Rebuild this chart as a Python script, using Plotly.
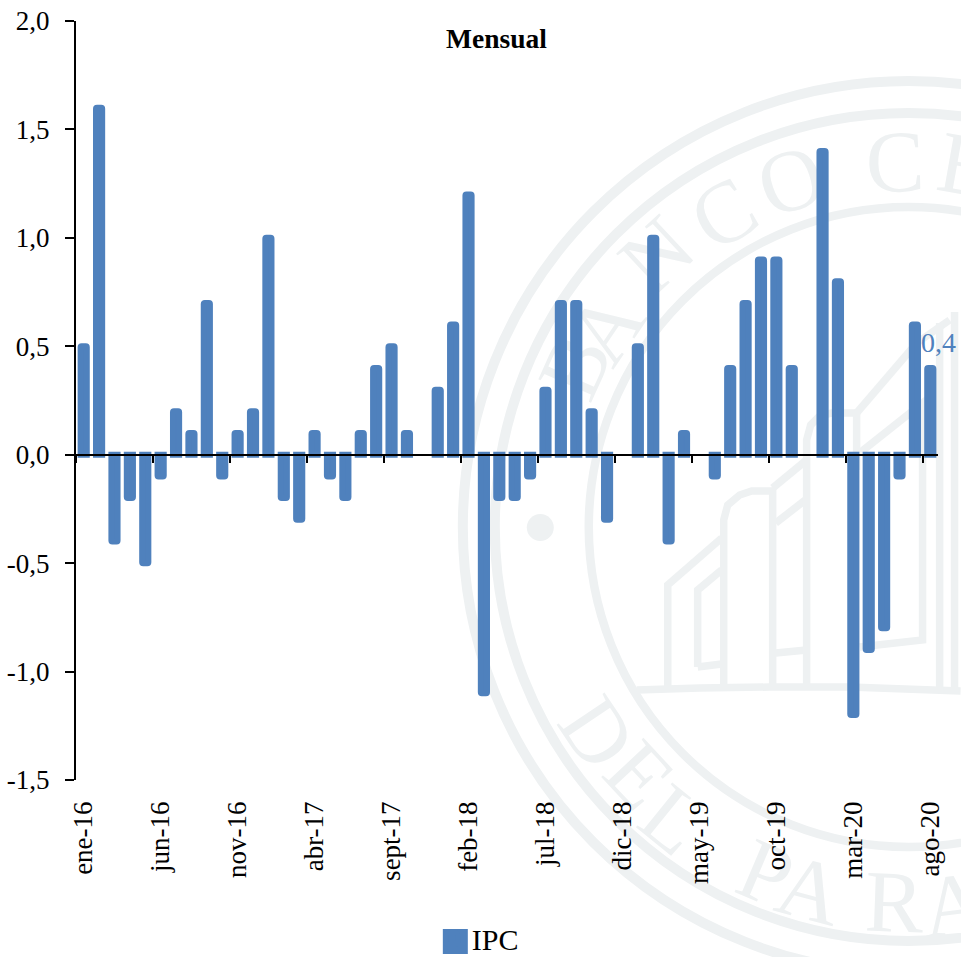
import plotly.graph_objects as go

months = ["ene", "feb", "mar", "abr", "may", "jun", "jul", "ago", "sept", "oct", "nov", "dic"]
years = ["16", "17", "18", "19", "20"]
categories = [f"{m}-{y}" for y in years for m in months][:56]
ipc = [0.5, 1.6, -0.4, -0.2, -0.5, -0.1, 0.2, 0.1, 0.7, -0.1, 0.1, 0.2,
       1.0, -0.2, -0.3, 0.1, -0.1, -0.2, 0.1, 0.4, 0.5, 0.1, 0.0, 0.3,
       0.6, 1.2, -1.1, -0.2, -0.2, -0.1, 0.3, 0.7, 0.7, 0.2, -0.3, 0.0,
       0.5, 1.0, -0.4, 0.1, 0.0, -0.1, 0.4, 0.7, 0.9, 0.9, 0.4, 0.0,
       1.4, 0.8, -1.2, -0.9, -0.8, -0.1, 0.6, 0.4]
y_ticks = [-1.5, -1.0, -0.5, 0.0, 0.5, 1.0, 1.5, 2.0]
y_labels = ["-1,5", "-1,0", "-0,5", "0,0", "0,5", "1,0", "1,5", "2,0"]

W, H = 961, 957
L, R, T, B = 76, 938.4, 21, 780
BLUE = "#4f81bd"
PALE = "#eef1f2"
SERIF = "Liberation Serif"


def px(x):
    return (x - L) / (R - L)


def py(y):
    return 1 - (y - T) / (B - T)


def poly(points):
    return "M" + " L".join(f"{px(x):.4f},{py(y):.4f}" for x, y in points)


shapes = []
# watermark rings
CX, CY = 909, 527
for rad, lw in [(446, 10), (414, 10), (320, 8.5)]:
    shapes.append(dict(type="circle", xref="paper", yref="paper", layer="below",
                       x0=px(CX - rad), x1=px(CX + rad), y0=py(CY + rad), y1=py(CY - rad),
                       line=dict(color=PALE, width=lw), fillcolor="rgba(0,0,0,0)"))
shapes.append(dict(type="circle", xref="paper", yref="paper", layer="below",
                   x0=px(527), x1=px(554), y0=py(541), y1=py(514),
                   line=dict(width=0), fillcolor=PALE))
# watermark building
building = [
    [(637, 690), (700, 688), (770, 687), (850, 687), (961, 691)],
    [(668, 688), (668, 585), (722, 538)],
    [(724, 688), (724, 520), (728, 505), (740, 495), (752, 491), (773, 491), (773, 688)],
    [(698, 667), (698, 590), (722, 570)],
    [(698, 667), (722, 664)],
    [(773, 488), (807, 460)],
    [(776, 523), (807, 499)],
    [(776, 653), (807, 650)],
    [(807, 688), (807, 440), (811, 425), (820, 416), (832, 413), (857, 413), (857, 470)],
    [(857, 413), (917, 343), (950, 320)],
    [(860, 453), (923, 403), (923, 640), (860, 647)],
    [(940, 323), (940, 690)],
    [(955, 312), (955, 690)],
]
for pts in building:
    shapes.append(dict(type="path", xref="paper", yref="paper", layer="below",
                       path=poly(pts), line=dict(color=PALE, width=7.5)))
# watermark lettering, drawn below the bars
letters = [
    ("B", 566, 362, -66), ("A", 598, 322, -56), ("N", 650, 247, -43), ("C", 719, 205, -31),
    ("O", 788, 171, -19), ("C", 895, 152, -2), ("E", 968, 155, 10),
    ("D", 606, 727, 56), ("E", 647, 768, 47), ("L", 680, 812, 39), ("P", 770, 864, 23),
    ("A", 813, 880, 15), ("R", 895, 892, 2), ("A", 953, 895, -7),
]
for ch, x, y, ang in letters:
    shapes.append(dict(type="rect", xref="paper", yref="paper", layer="below",
                       x0=px(x - 40), x1=px(x + 40), y0=py(y + 40), y1=py(y - 40),
                       line=dict(width=0), fillcolor="rgba(0,0,0,0)",
                       label=dict(text=ch, textangle=ang, textposition="middle center",
                                  font=dict(family=SERIF, size=88, color=PALE))))
# enlarged legend swatch behind the legend's own key
shapes.append(dict(type="rect", xref="paper", yref="paper", layer="below",
                   x0=px(444), x1=px(467), y0=py(953), y1=py(930),
                   line=dict(color=BLUE, width=2), fillcolor=BLUE))

line_widths = [0 if v == 0 else 6 for v in ipc]

fig = go.Figure()
fig.add_trace(go.Bar(x=categories, y=ipc, name="IPC", width=0.4,
                     marker=dict(color=BLUE, line=dict(color=BLUE, width=line_widths)),
                     hoverinfo="x+y"))
fig.add_trace(go.Scatter(x=categories, y=ipc, xaxis="x2", mode="markers", showlegend=False,
                         marker=dict(opacity=0, size=1), hoverinfo="skip"))

fig.update_layout(
    template="none",
    width=W, height=H,
    margin=dict(l=L, r=W - R, t=T, b=H - B, pad=0, autoexpand=False),
    paper_bgcolor="white", plot_bgcolor="rgba(0,0,0,0)",
    barcornerradius=1,
    font=dict(family=SERIF, color="black", size=27),
    shapes=shapes,
    xaxis=dict(type="category", categoryorder="array", categoryarray=categories,
               range=[-0.5, 55.5], dtick=5, tick0=0, tickangle=-90, automargin=False,
               showline=False, showgrid=False, zeroline=False, ticks="",
               ticklabelstandoff=15, tickfont=dict(size=27)),
    xaxis2=dict(type="category", categoryorder="array", categoryarray=categories,
                range=[-0.5, 55.5], overlaying="x", anchor="free", position=1.5 / 3.5,
                side="bottom", dtick=5, tick0=0, tickson="boundaries", automargin=False,
                showline=True, linecolor="black", linewidth=2,
                ticks="outside", ticklen=7, tickwidth=1.5, tickcolor="black",
                showticklabels=False, showgrid=False, zeroline=False),
    yaxis=dict(range=[-1.5, 2.0], tickmode="array", tickvals=y_ticks, ticktext=y_labels,
               showline=True, linecolor="black", linewidth=2, automargin=False,
               ticks="outside", ticklen=9, tickwidth=1.5, tickcolor="black",
               ticklabelstandoff=10, showgrid=False, zeroline=False,
               tickfont=dict(size=27)),
    legend=dict(orientation="h", x=px(432), xanchor="left", y=py(938.5), yanchor="middle",
                bgcolor="rgba(0,0,0,0)", font=dict(size=30), itemwidth=30),
    annotations=[
        dict(xref="paper", yref="paper", x=px(497), y=py(38), text="<b>Mensual</b>",
             showarrow=False, xanchor="center", yanchor="middle",
             font=dict(family=SERIF, size=27.5, color="black")),
        dict(xref="x", yref="y", x=categories[-1], y=ipc[-1], text="0,4", showarrow=False,
             xanchor="center", yanchor="bottom", xshift=8, yshift=8,
             font=dict(family=SERIF, size=28, color=BLUE)),
    ],
)
fig.write_html("out.html", config=dict(displayModeBar=False),
               post_script="document.body.style.margin='0';document.body.style.overflow='hidden';")
